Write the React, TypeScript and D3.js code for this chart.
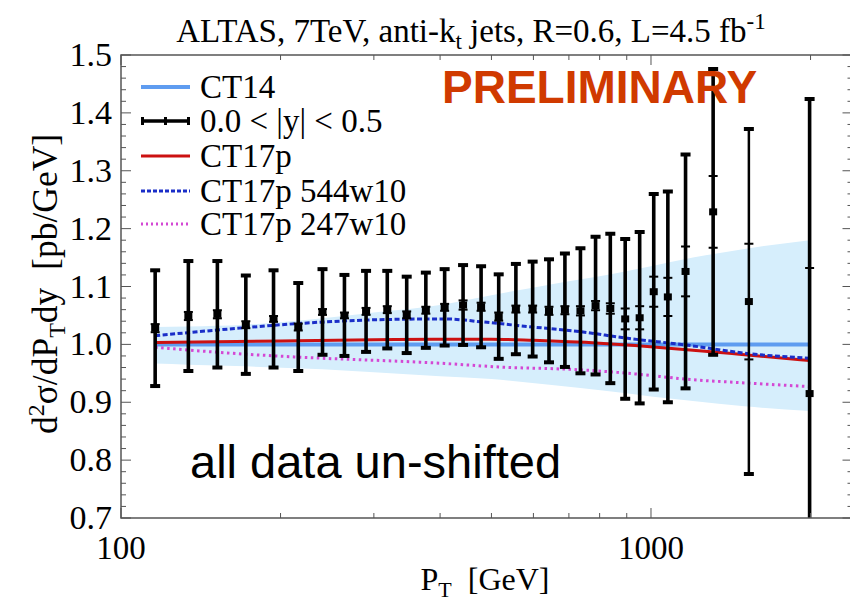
import React from "react";
import * as d3 from "d3";

const W = 850;
const H = 601;

// Jet pT bin edges (GeV) at which the ratio points are drawn
const ptPoints = [116, 134, 152, 172, 194, 216, 240, 264, 290, 318, 346, 376, 408, 442, 478, 516, 556, 598, 642, 688, 736, 786, 838, 894, 952, 1012, 1076, 1162, 1310, 1530, 1992];
// Data / theory ratio, 0.0 < |y| < 0.5
const ratio = [1.028, 1.049, 1.052, 1.034, 1.044, 1.030, 1.056, 1.050, 1.057, 1.060, 1.051, 1.059, 1.064, 1.068, 1.065, 1.048, 1.061, 1.061, 1.058, 1.059, 1.058, 1.067, 1.062, 1.044, 1.046, 1.091, 1.082, 1.126, 1.229, 1.074, 0.915];
// Total (outer caps) and statistical (inner ticks) uncertainties
const totalErr = [0.100, 0.095, 0.092, 0.085, 0.084, 0.076, 0.074, 0.070, 0.070, 0.067, 0.066, 0.065, 0.066, 0.069, 0.070, 0.073, 0.078, 0.082, 0.089, 0.098, 0.108, 0.119, 0.129, 0.138, 0.148, 0.169, 0.182, 0.202, 0.247, 0.298, 0.509];
const statErr = [0.007, 0.007, 0.007, 0.006, 0.005, 0.006, 0.005, 0.005, 0.006, 0.006, 0.006, 0.006, 0.006, 0.008, 0.007, 0.007, 0.006, 0.006, 0.007, 0.007, 0.008, 0.008, 0.009, 0.018, 0.020, 0.026, 0.033, 0.043, 0.062, 0.100, 0.217];

// CT14 PDF uncertainty band
const bandPt = [116, 134, 172, 240, 300, 400, 500, 650, 850, 1000, 1200, 1500, 1992];
const bandLo = [0.967, 0.965, 0.962, 0.957, 0.952, 0.945, 0.940, 0.930, 0.918, 0.910, 0.902, 0.893, 0.885];
const bandHi = [1.030, 1.031, 1.034, 1.045, 1.055, 1.068, 1.085, 1.104, 1.122, 1.135, 1.150, 1.165, 1.180];

// Central CT14 prediction (reference)
const ct14Pt = [116, 1992];
const ct14Val = [1.0, 1.0];

// CT17p
const ct17pPt = [116, 200, 300, 400, 500, 600, 800, 933, 1200, 1467, 1992];
const ct17pVal = [1.003, 1.006, 1.008, 1.009, 1.009, 1.007, 1.002, 0.998, 0.990, 0.983, 0.972];

// CT17p 544w10
const w544Pt = [116, 172, 216, 318, 408, 478, 516, 598, 736, 894, 1162, 1530, 1992];
const w544Val = [1.015, 1.029, 1.036, 1.043, 1.044, 1.039, 1.036, 1.030, 1.022, 1.011, 0.999, 0.984, 0.976];

// CT17p 247w10
const w247Pt = [116, 172, 216, 408, 516, 736, 933, 1162, 1530, 1992];
const w247Val = [0.995, 0.983, 0.978, 0.967, 0.961, 0.956, 0.949, 0.940, 0.933, 0.927];

const yTicks = [0.7, 0.8, 0.9, 1.0, 1.1, 1.2, 1.3, 1.4, 1.5];
const xTickLabels = [100, 1000];
const legendLabels = ["CT14", "0.0 < |y| < 0.5", "CT17p", "CT17p 544w10", "CT17p 247w10"];

const SERIF = "'Liberation Serif', 'Times New Roman', serif";
const SANS = "'Liberation Sans', Arial, sans-serif";

const C_CT14 = "#5f9cf0";
const C_BAND = "#d6eefc";
const C_RED = "#cc1111";
const C_BLUE = "#1a2ec8";
const C_MAG = "#d448d4";
const C_AXIS = "#555555";

export default function App() {
  const left = 121;
  const top = 55;
  const bottom = 518;
  const x = d3.scaleLog().domain([100, 2400]).range([left, 852.5]);
  const y = d3.scaleLinear().domain([0.7, 1.5]).range([bottom, top]);
  const right = x(2400);

  const line = (pts: number[], vals: number[]) =>
    d3
      .line<number>()
      .x((_, i) => x(pts[i]))
      .y((v) => y(v))
      .curve(d3.curveMonotoneX)(vals) as string;

  const band = d3
    .area<number>()
    .x((_, i) => x(bandPt[i]))
    .y0((_, i) => y(bandLo[i]))
    .y1((v) => y(v))
    .curve(d3.curveMonotoneX)(bandHi) as string;

  const yMinor = d3.range(0.7, 1.5001, 0.02);
  const xMinor = [200, 300, 400, 500, 600, 700, 800, 900, 2000];
  const xMajor = [100, 1000];

  const legendY = [87, 121, 156, 191, 224];
  const lx0 = 141;
  const lx1 = 190;

  return (
    <svg
      width={W}
      height={H}
      style={{ position: "absolute", left: 0, top: 0, background: "#fff" }}
    >
      <defs>
        <clipPath id="plotArea">
          <rect x={left} y={top} width={right - left} height={bottom - top} />
        </clipPath>
      </defs>

      {/* title */}
      <text x={471} y={42} textAnchor="middle" fontFamily={SERIF} fontSize={33} fill="#000">
        ALTAS, 7TeV, anti-k
        <tspan fontSize={23} dy={7}>t</tspan>
        <tspan dy={-7}> jets, R=0.6, L=4.5 fb</tspan>
        <tspan fontSize={23} dy={-13}>-1</tspan>
      </text>

      <g clipPath="url(#plotArea)">
        <path d={band} fill={C_BAND} />
        <path d={line(ct14Pt, ct14Val)} fill="none" stroke={C_CT14} strokeWidth={4} />
        <path d={line(w247Pt, w247Val)} fill="none" stroke={C_MAG} strokeWidth={3} strokeDasharray="2.5,3.5" />
        <path d={line(ct17pPt, ct17pVal)} fill="none" stroke={C_RED} strokeWidth={3} />
        <path d={line(w544Pt, w544Val)} fill="none" stroke={C_BLUE} strokeWidth={3} strokeDasharray="5,2.5" />

        {/* data points with total and statistical uncertainties */}
        {ptPoints.map((p, i) => {
          const cx = x(p);
          const c = ratio[i];
          const hi = y(c + totalErr[i]);
          const lo = y(c - totalErr[i]);
          const sHi = y(c + statErr[i]);
          const sLo = y(c - statErr[i]);
          const lw = i === 29 ? 2.5 : 3.6;
          return (
            <g key={i} stroke="#000">
              <line x1={cx} x2={cx} y1={hi} y2={lo} strokeWidth={lw} />
              <line x1={cx - 5} x2={cx + 5} y1={hi} y2={hi} strokeWidth={4} />
              <line x1={cx - 5} x2={cx + 5} y1={lo} y2={lo} strokeWidth={4} />
              <line x1={cx - 4.5} x2={cx + 4.5} y1={sHi} y2={sHi} strokeWidth={2} />
              <line x1={cx - 4.5} x2={cx + 4.5} y1={sLo} y2={sLo} strokeWidth={2} />
              <rect x={cx - 4} y={y(c) - 3.5} width={8} height={7} fill="#000" stroke="none" />
            </g>
          );
        })}
      </g>

      {/* frame */}
      <rect
        x={left}
        y={top}
        width={right - left}
        height={bottom - top}
        fill="none"
        stroke={C_AXIS}
        strokeWidth={1.5}
      />

      {/* ticks */}
      <g stroke={C_AXIS} strokeWidth={1}>
        {yMinor.map((v, i) => {
          const major = i % 5 === 0;
          const len = major ? 10 : 5;
          return (
            <g key={i}>
              <line x1={left} x2={left + len} y1={y(v)} y2={y(v)} />
              <line x1={right} x2={right - len} y1={y(v)} y2={y(v)} />
            </g>
          );
        })}
        {xMinor.map((v) => (
          <g key={v}>
            <line x1={x(v)} x2={x(v)} y1={bottom} y2={bottom - 5} />
            <line x1={x(v)} x2={x(v)} y1={top} y2={top + 5} />
          </g>
        ))}
        {xMajor.map((v) => (
          <g key={v}>
            <line x1={x(v)} x2={x(v)} y1={bottom} y2={bottom - 10} />
            <line x1={x(v)} x2={x(v)} y1={top} y2={top + 10} />
          </g>
        ))}
      </g>

      <g fontFamily={SERIF} fill="#000">
        {yTicks.map((v) => (
          <text key={v} x={112} y={y(v) + 11} textAnchor="end" fontSize={34}>
            {v.toFixed(1)}
          </text>
        ))}
        {xTickLabels.map((v) => (
          <text key={v} x={x(v)} y={559} textAnchor="middle" fontSize={33}>
            {v}
          </text>
        ))}
      </g>

      {/* axis titles */}
      <text x={485} y={590} textAnchor="middle" fontFamily={SERIF} fontSize={32}>
        P<tspan fontSize={22} dy={7}>T</tspan>
        <tspan dy={-7}>{"\u00a0\u00a0[GeV]"}</tspan>
      </text>
      <text
        transform="translate(57,284) rotate(-90)"
        textAnchor="middle"
        fontFamily={SERIF}
        fontSize={35.5}
      >
        d<tspan fontSize={24} dy={-13}>2</tspan>
        <tspan dy={13}>σ/dP</tspan>
        <tspan fontSize={24} dy={8}>T</tspan>
        <tspan dy={-8}>{"dy\u00a0\u00a0[pb/GeV]"}</tspan>
      </text>

      {/* legend */}
      <g>
        <line x1={lx0} x2={lx1} y1={legendY[0]} y2={legendY[0]} stroke={C_CT14} strokeWidth={4} />
        <g stroke="#000">
          <line x1={lx0} x2={lx1} y1={legendY[1]} y2={legendY[1]} strokeWidth={3.5} />
          {[lx0 + 1.5, (lx0 + lx1) / 2, lx1 - 1.5].map((tx, i) => (
            <line key={i} x1={tx} x2={tx} y1={legendY[1] - 4} y2={legendY[1] + 4} strokeWidth={3} />
          ))}
        </g>
        <line x1={lx0} x2={lx1} y1={legendY[2]} y2={legendY[2]} stroke={C_RED} strokeWidth={3} />
        <line x1={lx0} x2={lx1} y1={legendY[3]} y2={legendY[3]} stroke={C_BLUE} strokeWidth={3} strokeDasharray="4,2" />
        <line x1={lx0} x2={lx1} y1={legendY[4]} y2={legendY[4]} stroke={C_MAG} strokeWidth={3} strokeDasharray="2,3" />
        {legendLabels.map((l, i) => (
          <text key={l} x={200} y={legendY[i] + 11} fontFamily={SERIF} fontSize={33} fill="#000">
            {l}
          </text>
        ))}
      </g>

      <text x={442} y={103} fontFamily={SANS} fontWeight="bold" fontSize={46} fill="#d03a00">
        PRELIMINARY
      </text>
      <text x={190} y={478} fontFamily={SANS} fontSize={47} fill="#000">
        all data un-shifted
      </text>
    </svg>
  );
}
